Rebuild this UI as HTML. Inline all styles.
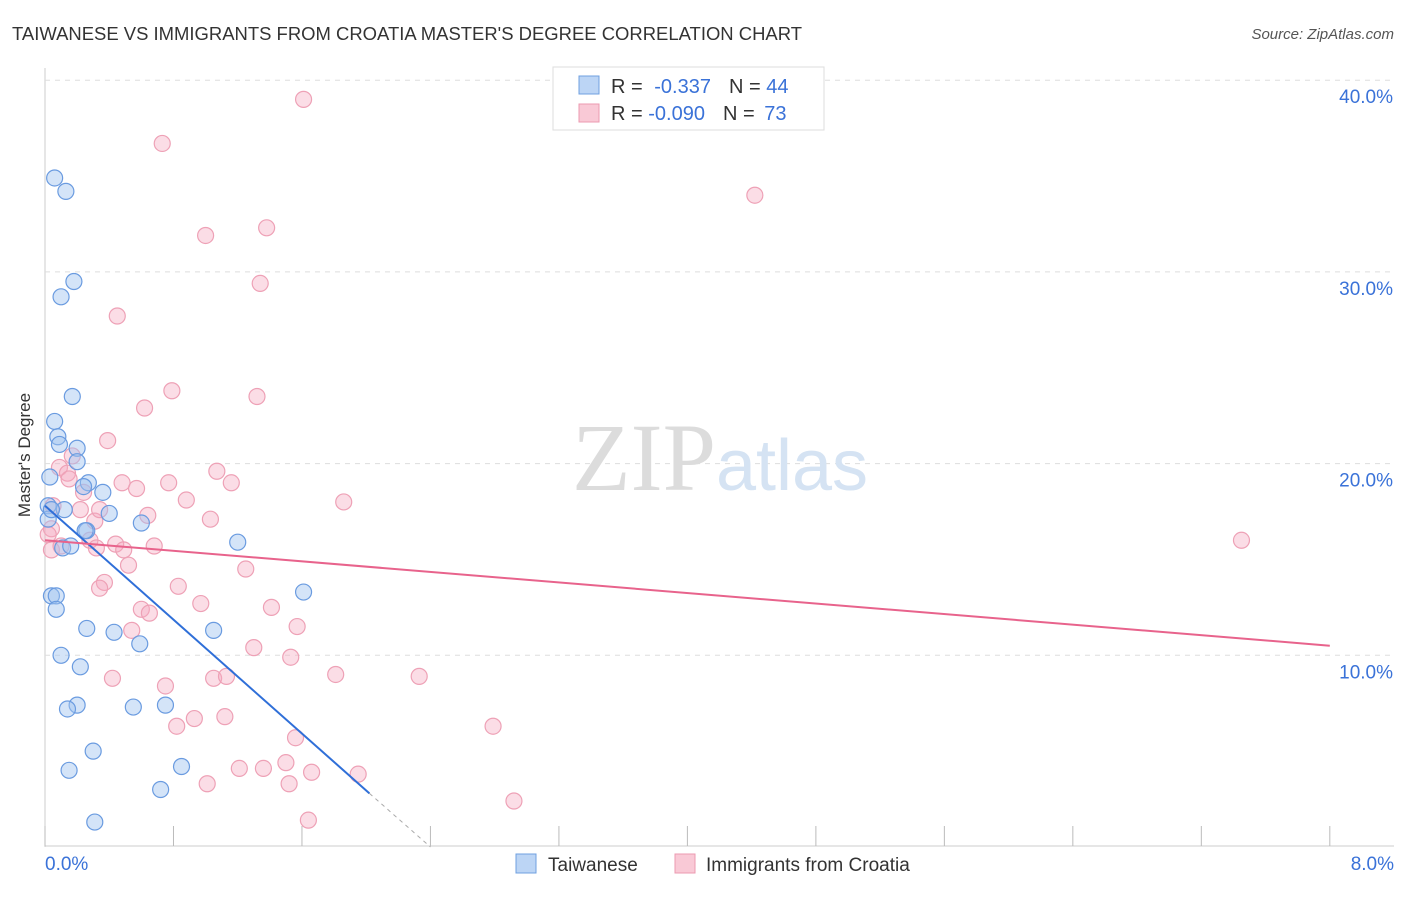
<!DOCTYPE html>
<html><head><meta charset="utf-8"><style>
body{margin:0;background:#fff;font-family:"Liberation Sans",sans-serif;}
svg text{font-family:"Liberation Sans",sans-serif;}
</style></head><body>
<svg id="chart" width="1406" height="892" xmlns="http://www.w3.org/2000/svg">
<text x="12" y="40" font-size="18" fill="#333" textLength="790" lengthAdjust="spacingAndGlyphs">TAIWANESE VS IMMIGRANTS FROM CROATIA MASTER'S DEGREE CORRELATION CHART</text>
<text x="1394" y="39" font-size="15" fill="#555" font-style="italic" text-anchor="end">Source: ZipAtlas.com</text>
<text x="30" y="455" font-size="17" fill="#333" text-anchor="middle" transform="rotate(-90 30 455)">Master's Degree</text>
<g id="grid"></g>
<text x="720" y="490" font-size="96" fill="#e4e4e4" text-anchor="middle" font-family="Liberation Serif"><tspan font-family="Liberation Serif" fill="#dcdcdc">ZIP</tspan><tspan font-size="72" fill="#d5e3f3" font-family="Liberation Sans">atlas</tspan></text>
<g id="points"></g>
<g id="trends"></g>
<g>
<rect x="553" y="67" width="271" height="63" fill="#fff" stroke="#ddd"/>
<rect x="579" y="76" width="20" height="18" fill="#bcd5f5" stroke="#6fa0e0"/>
<rect x="579" y="104" width="20" height="18" fill="#f9c9d6" stroke="#ec9ab0"/>
<text x="611" y="93" font-size="20" fill="#333">R = <tspan dx="6" fill="#3a72d8">-0.337</tspan><tspan dx="18">N = </tspan><tspan fill="#3a72d8">44</tspan></text>
<text x="611" y="120" font-size="20" fill="#333">R = <tspan fill="#3a72d8">-0.090</tspan><tspan dx="18">N = </tspan><tspan dx="4" fill="#3a72d8">73</tspan></text>
</g>
<g>
<rect x="516" y="854" width="20" height="19" fill="#bcd5f5" stroke="#6fa0e0"/>
<text x="548" y="871" font-size="19" fill="#333">Taiwanese</text>
<rect x="675" y="854" width="20" height="19" fill="#f9c9d6" stroke="#ec9ab0"/>
<text x="706" y="871" font-size="19" fill="#333">Immigrants from Croatia</text>
</g>
</svg>
<script>
const xTicks=[0,0.8,1.6,2.4,3.2,4.0,4.8,5.6,6.4,7.2,8.0];
const yTicks=[10,20,30,40];
const yTickLabels=["10.0%","20.0%","30.0%","40.0%"];
const xEndLabels=["0.0%","8.0%"];
const blueX=[0.06,0.13,0.18,0.1,0.17,0.06,0.08,0.09,0.2,0.2,0.03,0.27,0.24,0.36,0.02,0.12,0.4,0.02,0.6,0.26,0.11,0.16,1.2,0.04,0.07,1.61,0.07,0.26,0.43,1.05,0.59,0.1,0.22,0.2,0.14,0.55,0.75,0.3,0.15,0.85,0.72,0.31,0.04,0.25];
const blueY=[34.9,34.2,29.5,28.7,23.5,22.2,21.4,21.0,20.8,20.1,19.3,19.0,18.8,18.5,17.8,17.6,17.4,17.1,16.9,16.5,15.6,15.7,15.9,13.1,13.1,13.3,12.4,11.4,11.2,11.3,10.6,10.0,9.4,7.4,7.2,7.3,7.4,5.0,4.0,4.2,3.0,1.3,17.6,16.5];
const pinkX=[1.61,0.73,1.0,1.38,4.42,1.34,0.45,0.79,1.32,0.62,0.39,0.09,0.14,0.15,0.48,0.77,1.07,1.16,0.57,0.24,0.88,1.86,0.05,0.22,0.64,0.31,1.03,0.04,0.02,0.28,0.44,0.68,0.32,0.49,0.04,7.45,0.52,1.25,0.37,0.34,0.83,0.6,0.65,0.97,1.41,0.54,1.57,1.3,1.53,0.42,1.81,2.33,0.75,1.05,1.13,0.93,1.12,0.82,2.79,1.56,1.5,1.21,1.36,1.66,1.95,1.01,1.52,2.92,1.64,0.17,0.34,0.1];
const pinkY=[39.0,36.7,31.9,32.3,34.0,29.4,27.7,23.8,23.5,22.9,21.2,19.8,19.5,19.2,19.0,19.0,19.6,19.0,18.7,18.5,18.1,18.0,17.8,17.6,17.3,17.0,17.1,16.6,16.3,16.0,15.8,15.7,15.6,15.5,15.5,16.0,14.7,14.5,13.8,13.5,13.6,12.4,12.2,12.7,12.5,11.3,11.5,10.4,9.9,8.8,9.0,8.9,8.4,8.8,8.9,6.7,6.8,6.3,6.3,5.7,4.4,4.1,4.1,3.9,3.8,3.3,3.3,2.4,1.4,20.4,17.6,15.7];
const blueTrend=[[0,17.8],[2.02,2.8]];
const blueDash=[[2.02,2.8],[2.4,0]];
const pinkTrend=[[0,16.0],[8,10.5]];
const NS="http://www.w3.org/2000/svg";
const X=v=>45+v*160.6, Y=v=>847-v*19.17;
function mk(tag,attrs,parent){const e=document.createElementNS(NS,tag);for(const k in attrs)e.setAttribute(k,attrs[k]);parent.appendChild(e);return e;}
const svg=document.getElementById('chart'),grid=document.getElementById('grid');
mk('line',{x1:45,y1:68,x2:45,y2:847,stroke:'#ccc'},grid);
mk('line',{x1:45,y1:846,x2:1394,y2:846,stroke:'#ccc'},grid);
yTicks.forEach((t,i)=>{
 const l=mk('line',{x1:45,y1:Y(t),x2:1394,y2:Y(t),stroke:'#ddd','stroke-dasharray':'5,5'},grid);
 
 
 const tx=mk('text',{x:1393,y:Y(t)+23,'font-size':19,fill:'#3a72d8','text-anchor':'end'},grid);tx.textContent=yTickLabels[i];
 
 
});
xTicks.forEach(t=>{
 const l=mk('line',{x1:X(t),y1:826,x2:X(t),y2:846,stroke:'#bbb'},grid);
 
 
});
[[0,'start',45],[8,'end',1394]].forEach((d,i)=>{
 const tx=mk('text',{x:d[2],y:870,'font-size':19,fill:'#3a72d8','text-anchor':d[1]},grid);tx.textContent=xEndLabels[i];
 
 
});
const pts=document.getElementById('points');
pinkX.forEach((x,i)=>{
 const c=mk('circle',{cx:X(x),cy:Y(pinkY[i]),r:8,fill:'rgba(246,170,192,0.4)',stroke:'#eea1b6','stroke-width':1.2},pts);
 
 
});
blueX.forEach((x,i)=>{
 const c=mk('circle',{cx:X(x),cy:Y(blueY[i]),r:8,fill:'rgba(160,195,240,0.45)',stroke:'#6a9be0','stroke-width':1.2},pts);
 
 
});
const tr=document.getElementById('trends');
let l1=mk('line',{x1:X(blueTrend[0][0]),y1:Y(blueTrend[0][1]),x2:X(blueTrend[1][0]),y2:Y(blueTrend[1][1]),stroke:'#2f6fd8','stroke-width':2},tr);


let l2=mk('line',{x1:X(blueDash[0][0]),y1:Y(blueDash[0][1]),x2:X(blueDash[1][0]),y2:Y(blueDash[1][1]),stroke:'#aaa','stroke-width':1,'stroke-dasharray':'4,4'},tr);


let l3=mk('line',{x1:X(pinkTrend[0][0]),y1:Y(pinkTrend[0][1]),x2:X(pinkTrend[1][0]),y2:Y(pinkTrend[1][1]),stroke:'#e8638c','stroke-width':2},tr);


</script>
</body></html>
